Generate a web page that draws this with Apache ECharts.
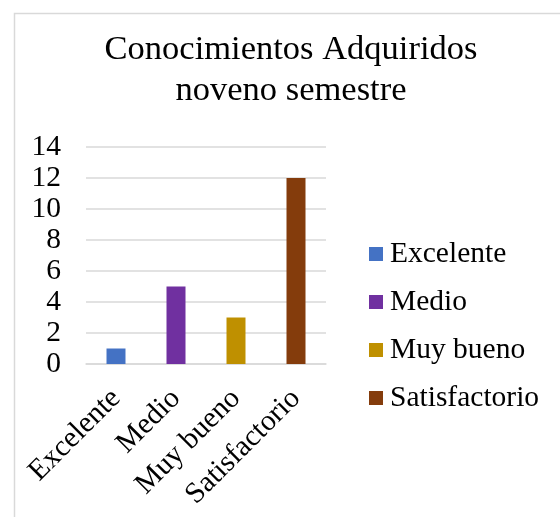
<!DOCTYPE html>
<html>
<head>
<meta charset="utf-8">
<script src="https://cdn.jsdelivr.net/npm/echarts@6/dist/echarts.min.js"></script>
<style>
  html, body { margin: 0; padding: 0; background: #fff; }
  #chart { width: 560px; height: 517px; }
</style>
</head>
<body>
<div id="chart"></div>
<script>
// datos del gráfico
const categories = ['Excelente', 'Medio', 'Muy bueno', 'Satisfactorio']
const values = [1, 5, 3, 12]
const colors = ['#4472C4', '#7030A0', '#BF9000', '#843C0C']
const yTicks = [0, 2, 4, 6, 8, 10, 12, 14]

const fontFamily = "'Liberation Serif', 'Times New Roman', serif"
const myChart = echarts.init(document.getElementById('chart'))

// una serie por categoría para que la leyenda muestre cada una
const series = categories.map((name, i) => ({
  name: name,
  type: 'bar',
  stack: 'total',
  barWidth: 19,
  itemStyle: { color: colors[i] },
  data: values.map((v, j) => (j === i ? v : '-'))
}))

const option = {
  animation: false,
  title: {
    text: 'Conocimientos Adquiridos\nnoveno semestre',
    left: 286,
    top: 24,
    textAlign: 'center',
    textStyle: {
      fontFamily: fontFamily,
      fontWeight: 'normal',
      fontSize: 34.5,
      lineHeight: 41,
      color: '#000'
    }
  },
  // marco del gráfico
  graphic: [{
    type: 'rect',
    shape: { x: 14.5, y: 13.5, width: 600, height: 600 },
    style: { fill: null, stroke: '#d9d9d9', lineWidth: 1.5 },
    silent: true
  }],
  legend: {
    orient: 'vertical',
    left: 364,
    top: 234,
    itemWidth: 14,
    itemHeight: 14,
    itemGap: 18,
    icon: 'rect',
    textStyle: {
      fontFamily: fontFamily,
      fontSize: 29.5,
      lineHeight: 27,
      color: '#000',
      padding: [0, 0, 0, 2]
    },
    data: categories
  },
  grid: {
    left: 86,
    right: 234,
    top: 147,
    bottom: 153
  },
  xAxis: {
    type: 'category',
    data: categories,
    axisTick: { show: false },
    axisLine: { lineStyle: { color: '#d9d9d9', width: 1.5 } },
    axisLabel: {
      rotate: 45,
      margin: 30,
      interval: 0,
      fontFamily: fontFamily,
      fontSize: 29.5,
      color: '#000'
    }
  },
  yAxis: {
    type: 'value',
    min: yTicks[0],
    max: yTicks[yTicks.length - 1],
    interval: 2,
    axisLine: { show: false },
    axisTick: { show: false },
    splitLine: { lineStyle: { color: '#d9d9d9', width: 1.5 } },
    axisLabel: {
      margin: 25,
      fontFamily: fontFamily,
      fontSize: 29.5,
      color: '#000'
    }
  },
  series: series
}
myChart.setOption(option)
</script>
</body>
</html>
